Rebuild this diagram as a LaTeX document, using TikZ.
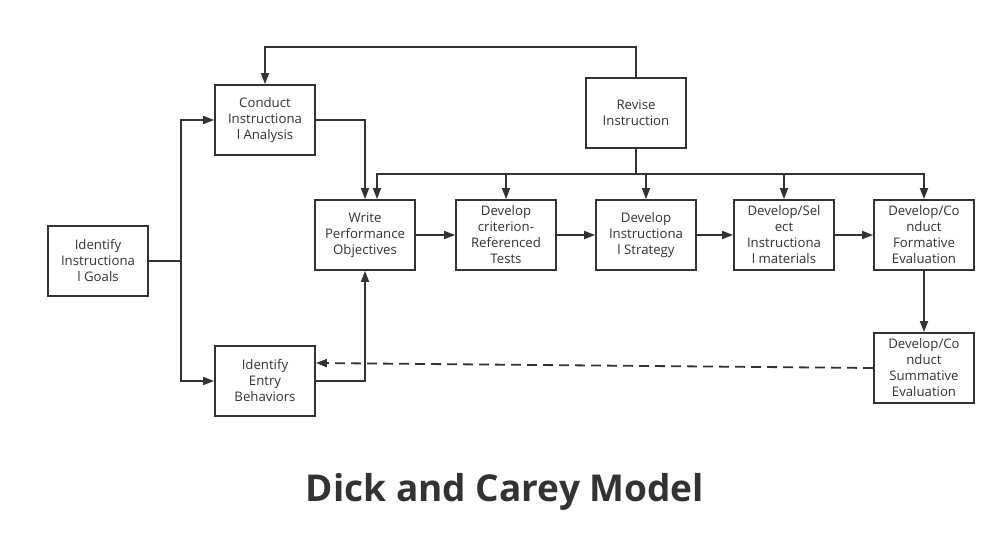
\documentclass[tikz,border=0pt]{standalone}
\usepackage{fontspec}
\setmainfont{Open Sans}
\usepackage{xcolor}
\usetikzlibrary{arrows.meta,positioning}
\definecolor{ink}{HTML}{333333}

\begin{document}
\begin{tikzpicture}
                [x=1pt, y=-1pt, >={Triangle[length=11pt,width=8pt]},
                line width=1.8pt, draw=ink,
                stepbox/.style={draw=ink, rectangle, minimum width=100pt,
                    minimum height=70pt, inner sep=0pt, align=center,
                    text=ink, font=\fontsize{13.2}{16}\selectfont},
                ]
                \useasboundingbox (0,0) rectangle (1006,539);

                \node[stepbox] (goals) at (98,261) {Identify\\Instructiona\\l Goals};
                \node[stepbox] (analysis) at (265,120) {Conduct\\Instructiona\\l Analysis};
                \node[stepbox] (entry) at (265,381) {Identify\\Entry\\Behaviors};
                \node[stepbox] (revise) at (636,113) {Revise\\Instruction};

                \node[stepbox] (write) at (365,235) {Write\\Performance\\Objectives};
                \node[stepbox] (tests) at (506,235) {Develop\\criterion-\\Referenced\\Tests};
                \node[stepbox] (strategy) at (646,235) {Develop\\Instructiona\\l Strategy};
                \node[stepbox] (materials) at (784,235) {Develop/Sel\\ect\\Instructiona\\l materials};
                \node[stepbox] (formative) at (924,235) {Develop/Co\\nduct\\Formative\\Evaluation};
                \node[stepbox] (summative) at (924,368) {Develop/Co\\nduct\\Summative\\Evaluation};

                \coordinate (split) at (181,261);
                \draw (goals.east) -- (split);
                \draw[->] (split) |- (analysis.west);
                \draw[->] (split) |- (entry.west);

                \draw[->] (analysis.east) -| (write.north);
                \draw[->] (entry.east) -| (write.south);

                \draw[->] (revise.north) -- ++(0,-30) -| (analysis.north);

                \coordinate (hub) at (636,174);
                \draw (revise.south) -- (hub);
                \draw[->] (hub) -| ([xshift=12pt]write.north);
                \draw[->] (hub) -| (tests.north);
                \draw[->] (hub) -| (strategy.north);
                \draw[->] (hub) -| (materials.north);
                \draw[->] (hub) -| (formative.north);

                \draw[->] (write) -- (tests);
                \draw[->] (tests) -- (strategy);
                \draw[->] (strategy) -- (materials);
                \draw[->] (materials) -- (formative);
                \draw[->] (formative) -- (summative);

                \draw[->, dash pattern=on 10pt off 6pt] (summative.west)
                    -- ([yshift=18pt]entry.east);

                \node[text=ink, font=\fontsize{37}{40}\selectfont\bfseries]
                    (title) at (505,492) {Dick and Carey Model};
            \end{tikzpicture}
\end{document}
